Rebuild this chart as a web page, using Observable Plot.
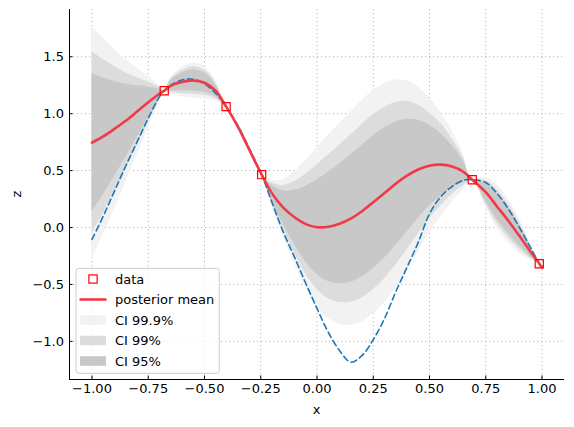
<!DOCTYPE html>
<html>
<head>
<meta charset="utf-8">
<script src="https://cdn.jsdelivr.net/npm/d3@7"></script>
<script src="https://cdn.jsdelivr.net/npm/@observablehq/plot@0.6"></script>
<style>
  html, body { margin: 0; padding: 0; background: white; }
  #chart { width: 574px; height: 427px; }
</style>
</head>
<body>
<div id="chart"></div>
<script>
// ---- data ----
const xs = [-1.00,-0.95,-0.90,-0.85,-0.80,-0.75,-0.70,-0.679,-0.65,-0.60,-0.55,-0.50,-0.45,-0.404,-0.35,-0.30,-0.246,-0.20,-0.15,-0.10,-0.05,0.00,0.05,0.10,0.15,0.20,0.25,0.30,0.35,0.40,0.45,0.50,0.55,0.60,0.65,0.69,0.75,0.80,0.85,0.90,0.95,0.988,1.00];
const meanZ = [0.745,0.80,0.866,0.937,1.018,1.10,1.175,1.201,1.245,1.278,1.292,1.272,1.20,1.062,0.88,0.68,0.464,0.30,0.175,0.09,0.03,0.003,0.006,0.033,0.078,0.143,0.222,0.303,0.385,0.455,0.51,0.543,0.552,0.535,0.49,0.42,0.31,0.185,0.06,-0.075,-0.215,-0.318,-0.35];
const sdZ = [0.31,0.262,0.213,0.164,0.116,0.069,0.021,0,0.022,0.039,0.047,0.043,0.027,0,0.006,0.006,0,0.035,0.075,0.122,0.17,0.212,0.245,0.268,0.285,0.295,0.298,0.292,0.277,0.253,0.22,0.18,0.14,0.095,0.048,0,0.04,0.058,0.058,0.045,0.022,0,0.006];
const trueZ = [-0.105,0.10,0.32,0.54,0.75,0.96,1.15,1.201,1.25,1.295,1.303,1.262,1.178,1.062,0.89,0.69,0.464,0.22,-0.04,-0.26,-0.49,-0.71,-0.92,-1.08,-1.183,-1.125,-0.985,-0.80,-0.565,-0.35,-0.13,0.12,0.27,0.36,0.415,0.42,0.395,0.30,0.165,0.0,-0.18,-0.318,-0.36];
const dataX = [-0.679,-0.404,-0.246,0.690,0.988];
const dataZ = [1.201,1.062,0.464,0.420,-0.318];
const ciLevels = ["CI 99.9%","CI 99%","CI 95%"];
const ciZ = [3.29,2.576,1.96];
const ciColors = ["#f2f2f2","#dcdcdc","#c8c8c8"];
const xTicks = [-1.00,-0.75,-0.50,-0.25,0.00,0.25,0.50,0.75,1.00];
const yTicks = [-1.0,-0.5,0.0,0.5,1.0,1.5];
const xDomain = [-1.1, 1.1];
const yDomain = [-1.335, 1.915];

// ---- tables built from the arrays ----
const curve = xs.map((x,i) => ({x, mean: meanZ[i], sd: sdZ[i], truth: trueZ[i]}));
const bands = ciLevels.map((name,k) => curve.map(d => ({x: d.x, lo: d.mean - ciZ[k]*d.sd, hi: d.mean + ciZ[k]*d.sd})));
const pts = dataX.map((x,i) => ({x, z: dataZ[i]}));

const font = "DejaVu Sans, sans-serif";
const red = "#f03a47";

const svg = Plot.plot({
  width: 574, height: 427,
  marginLeft: 69, marginRight: 10, marginTop: 9, marginBottom: 48,
  style: {fontFamily: font, fontSize: "13px", background: "white", color: "#000", overflow: "visible"},
  x: {domain: xDomain},
  y: {domain: yDomain},
  marks: [
    Plot.gridX(xTicks, {stroke: "#b8b8b8", strokeOpacity: 1, strokeWidth: 1, strokeDasharray: "1.2,2.8"}),
    Plot.gridY(yTicks, {stroke: "#b8b8b8", strokeOpacity: 1, strokeWidth: 1, strokeDasharray: "1.2,2.8"}),
    ...bands.map((b,k) => Plot.areaY(b, {x: "x", y1: "lo", y2: "hi", fill: ciColors[k], curve: "catmull-rom"})),
    Plot.line(curve, {x: "x", y: "truth", stroke: "#1f77b4", strokeWidth: 1.6, strokeDasharray: "6,3.6", curve: "catmull-rom"}),
    Plot.line(curve, {x: "x", y: "mean", stroke: red, strokeWidth: 2.6, curve: "catmull-rom"}),
    Plot.dot(pts, {x: "x", y: "z", symbol: "square", r: 4.6, stroke: "#ff0000", strokeWidth: 1.2, fill: "none"}),
    Plot.ruleX([xDomain[0]], {stroke: "#000", strokeWidth: 1}),
    Plot.ruleY([yDomain[0]], {stroke: "#000", strokeWidth: 1}),
    Plot.axisX(xTicks, {tickSize: -3.5, tickPadding: 8, tickFormat: d3.format(".2f"), label: null, fontSize: 13}),
    Plot.axisY(yTicks, {tickSize: -3.5, tickPadding: 9, tickFormat: d3.format(".1f"), label: null, fontSize: 13})
  ]
});

const s = d3.select(svg);
// axis labels
s.append("text").attr("x", 316.5).attr("y", 414).attr("text-anchor", "middle")
  .attr("font-family", font).attr("font-size", 13).attr("fill", "#000").text("x");
s.append("text").attr("transform", "translate(20.7,194) rotate(-90)").attr("text-anchor", "middle")
  .attr("font-family", font).attr("font-size", 13).attr("fill", "#000").text("z");

// legend
const lg = s.append("g").attr("text-anchor", "start");
lg.append("rect").attr("x", 76).attr("y", 268.3).attr("width", 143.3).attr("height", 105).attr("rx", 3)
  .attr("fill", "white").attr("fill-opacity", 0.8).attr("stroke", "#cccccc").attr("stroke-width", 1);
const rowY = [279, 299.5, 320, 340.5, 361];
const labels = ["data", "posterior mean", ...ciLevels];
lg.append("rect").attr("x", 93 - 4.1).attr("y", rowY[0] - 4.1).attr("width", 8.2).attr("height", 8.2)
  .attr("fill", "none").attr("stroke", "#ff0000").attr("stroke-width", 1.2);
lg.append("line").attr("x1", 79.5).attr("x2", 106.5).attr("y1", rowY[1]).attr("y2", rowY[1])
  .attr("stroke", red).attr("stroke-width", 2.6);
ciColors.forEach((c,k) => {
  lg.append("rect").attr("x", 80).attr("y", rowY[k+2] - 4.8).attr("width", 26).attr("height", 9.6).attr("fill", c);
});
labels.forEach((t,i) => {
  lg.append("text").attr("x", 115).attr("y", rowY[i]).attr("dy", "0.36em").attr("text-anchor", "start")
    .attr("font-family", font).attr("font-size", 13).attr("fill", "#000").text(t);
});

document.getElementById("chart").appendChild(svg);
</script>
</body>
</html>
